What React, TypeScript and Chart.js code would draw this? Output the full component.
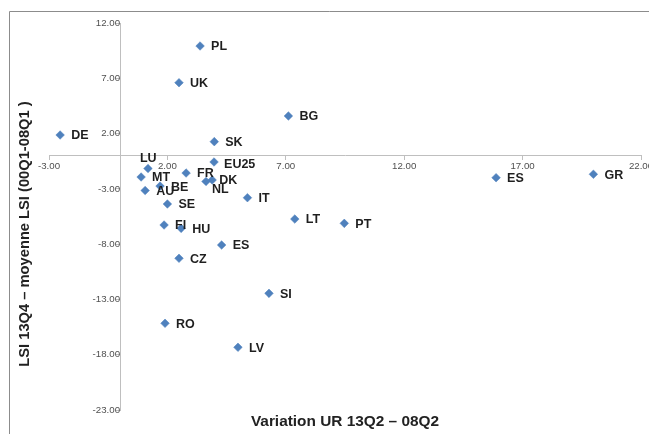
import React, { useEffect, useRef } from "react";
import { Chart, registerables } from "chart.js";

Chart.register(...registerables);

const countries = ["PL", "UK", "BG", "DE", "SK", "EU25", "LU", "FR", "MT", "DK", "NL", "BE", "AU", "SE", "IT", "FI", "HU", "LT", "PT", "ES", "CZ", "SI", "RO", "LV", "ES", "GR"];
const urVariation = [3.38, 2.49, 7.11, -2.53, 3.98, 3.97, 1.18, 2.79, 0.89, 3.89, 3.63, 1.69, 1.06, 2.0, 5.38, 1.86, 2.58, 7.38, 9.47, 4.29, 2.49, 6.29, 1.9, 4.98, 15.88, 19.99];
const lsiGap = [9.92, 6.6, 3.59, 1.87, 1.27, -0.57, -1.16, -1.57, -1.93, -2.2, -2.33, -2.75, -3.15, -4.37, -3.8, -6.27, -6.57, -5.73, -6.12, -8.08, -9.28, -12.45, -15.16, -17.33, -1.99, -1.68];
const xTicks = [-3, 2, 7, 12, 17, 22];
const yTicks = [-23, -18, -13, -8, -3, 2, 7, 12];
const xTitle = "Variation UR 13Q2 \u2013 08Q2";
const yTitle = "LSI 13Q4 \u2013 moyenne LSI (00Q1-08Q1 )";

// label placement tweaks (styling only), by point index
const labelOffsets: Record<number, { dx: number; dy: number }> = {
  6: { dx: -8, dy: -10 },
  9: { dx: 7, dy: 1 },
  10: { dx: 6, dy: 8 },
  5: { dx: 10, dy: 3 },
};

const FONT = "Arial, 'Liberation Sans', sans-serif";

const decorPlugin = {
  id: "decor",
  beforeDraw(chart: any) {
    const ctx = chart.ctx;
    ctx.save();
    ctx.strokeStyle = "#8c8c8c";
    ctx.lineWidth = 1;
    ctx.beginPath();
    ctx.moveTo(9.5, 434);
    ctx.lineTo(9.5, 11.5);
    ctx.lineTo(649, 11.5);
    ctx.stroke();
    ctx.restore();
  },
  afterDatasetsDraw(chart: any) {
    const ctx = chart.ctx;
    const meta = chart.getDatasetMeta(0);
    ctx.save();
    ctx.font = `bold 12.5px ${FONT}`;
    ctx.fillStyle = "#1f1f1f";
    ctx.textAlign = "left";
    ctx.textBaseline = "middle";
    meta.data.forEach((pt: any, i: number) => {
      const off = labelOffsets[i] || { dx: 11, dy: 1 };
      ctx.fillText(countries[i], pt.x + off.dx, pt.y + off.dy);
    });
    ctx.restore();
  },
  afterDraw(chart: any) {
    const ctx = chart.ctx;
    ctx.save();
    ctx.fillStyle = "#222222";
    ctx.textAlign = "center";
    ctx.textBaseline = "middle";
    ctx.font = `bold 15.4px ${FONT}`;
    ctx.fillText(xTitle, 345, 422);
    ctx.translate(25, 234);
    ctx.rotate(-Math.PI / 2);
    ctx.font = `bold 14.7px ${FONT}`;
    ctx.fillText(yTitle, 0, 0);
    ctx.restore();
  },
};

export default function App() {
  const ref = useRef<HTMLCanvasElement>(null);
  useEffect(() => {
    if (!ref.current) return;
    const axisColor = "#BFBFBF";
    const zeroPad = (s: any) => {
      s.paddingLeft = 0;
      s.paddingRight = 0;
      s.paddingTop = 0;
      s.paddingBottom = 0;
    };
    const chart = new Chart(ref.current, {
      type: "scatter",
      data: {
        datasets: [
          {
            data: urVariation.map((x, i) => ({ x, y: lsiGap[i] })),
            backgroundColor: "#4F81BD",
            borderColor: "#4F81BD",
            borderWidth: 0.5,
            pointStyle: "rectRot",
            pointRadius: 4.3,
          },
        ],
      },
      options: {
        animation: false,
        responsive: false,
        layout: { padding: { left: 49, right: 8, top: 23, bottom: 24 } },
        plugins: { legend: { display: false }, tooltip: { enabled: false } },
        scales: {
          x: {
            type: "linear",
            min: -3,
            max: 22,
            position: { y: 0 },
            afterBuildTicks: (s: any) => {
              s.ticks = xTicks.map((v) => ({ value: v }));
            },
            afterFit: zeroPad,
            grid: { display: true, drawOnChartArea: false, drawTicks: true, tickLength: 4, color: axisColor },
            border: { display: true, color: axisColor },
            ticks: {
              autoSkip: false,
              maxRotation: 0,
              padding: 1,
              color: "#505050",
              font: { family: FONT, size: 9.7 },
              callback: (v: any) => Number(v).toFixed(2),
            },
          },
          y: {
            type: "linear",
            min: -23,
            max: 12,
            position: { x: 0 },
            afterBuildTicks: (s: any) => {
              s.ticks = yTicks.map((v) => ({ value: v }));
            },
            afterFit: zeroPad,
            grid: { display: true, drawOnChartArea: false, drawTicks: true, tickLength: 4, color: axisColor },
            border: { display: true, color: axisColor },
            ticks: {
              autoSkip: false,
              padding: 5,
              color: "#505050",
              font: { family: FONT, size: 9.7 },
              callback: (v: any) => Number(v).toFixed(2),
            },
          },
        },
      },
      plugins: [decorPlugin],
    });
    return () => chart.destroy();
  }, []);
  return (
    <div style={{ position: "absolute", left: 0, top: 0, width: 649, height: 434, background: "#fff" }}>
      <canvas ref={ref} width={649} height={434} style={{ display: "block" }} />
    </div>
  );
}
